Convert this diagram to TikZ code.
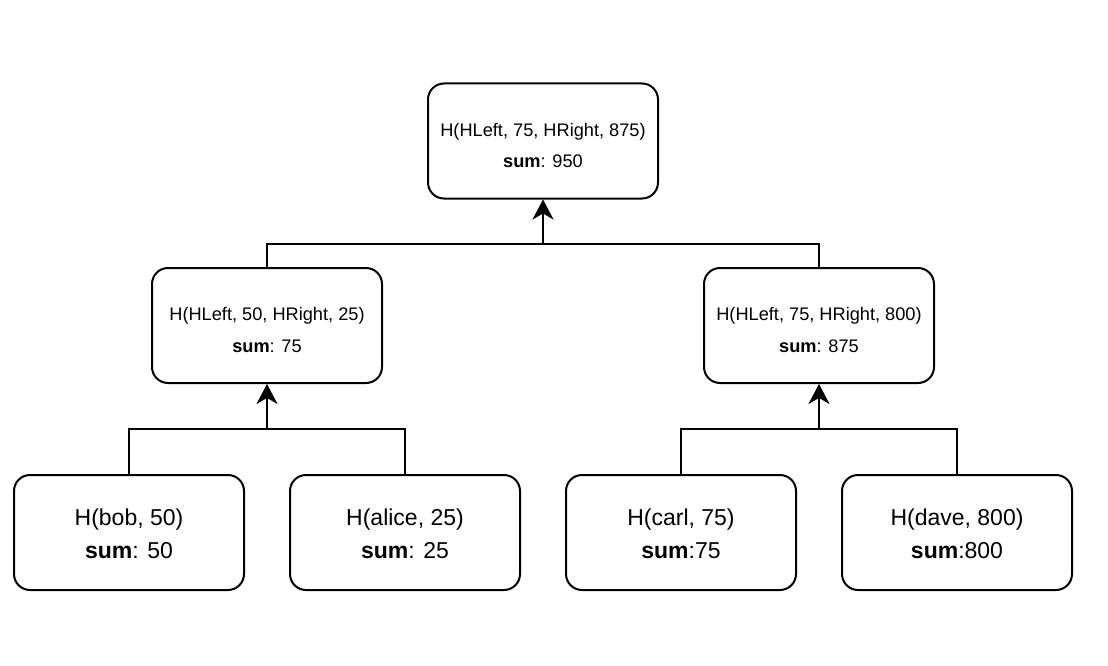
\documentclass[tikz,border=0pt]{standalone}
\usepackage{fontspec}
\setmainfont{Liberation Sans}
\usetikzlibrary{arrows.meta}
\tikzset{
  hbox/.style={draw=black, line width=2pt, rounded corners=16pt, fill=white,
    minimum width=230pt, minimum height=115pt, inner sep=0pt},
  smalltext/.style={align=center, inner sep=0pt, font=\fontsize{18.2}{31.5}\selectfont},
  bigtext/.style={align=center, inner sep=0pt, font=\fontsize{23}{33}\selectfont},
  link/.style={draw=black, line width=2pt},
  uparrow/.style={link, -{Stealth[length=20pt, width=21pt, inset=6pt]}},
}
\begin{document}
\begin{tikzpicture}[x=1pt, y=-1pt]
\useasboundingbox[fill=white] (0,0) rectangle (1108,666);
\node[hbox] (top) at (543,141) {};
\node[hbox] (ml) at (267,325.5) {};
\node[hbox] (mr) at (819,325.5) {};
\node[hbox] (bob) at (129,532.5) {};
\node[hbox] (alice) at (405,532.5) {};
\node[hbox] (carl) at (681,532.5) {};
\node[hbox] (dave) at (957,532.5) {};
\node[smalltext] (topt) at ([yshift=-4.5pt]top.center) {H(HLeft, 75, HRight, 875)\\\textbf{sum}: 950};
\node[smalltext] (mlt) at ([yshift=-4.5pt]ml.center) {H(HLeft, 50, HRight, 25)\\\textbf{sum}: 75};
\node[smalltext] (mrt) at ([yshift=-4.5pt]mr.center) {H(HLeft, 75, HRight, 800)\\\textbf{sum}: 875};
\node[bigtext] (bobt) at ([yshift=-1pt]bob.center) {H(bob, 50)\\\textbf{sum}: 50};
\node[bigtext] (alicet) at ([yshift=-1pt]alice.center) {H(alice, 25)\\\textbf{sum}: 25};
\node[bigtext] (carlt) at ([yshift=-1pt]carl.center) {H(carl, 75)\\\textbf{sum}:75};
\node[bigtext] (davet) at ([yshift=-1pt]dave.center) {H(dave, 800)\\\textbf{sum}:800};
\coordinate (j0) at (543,244);
\coordinate (j1) at (267,429);
\coordinate (j2) at (819,429);
\draw[link] (ml.north) |- (j0) -| (mr.north);
\draw[uparrow] (j0) -- (top.south);
\draw[link] (bob.north) |- (j1) -| (alice.north);
\draw[uparrow] (j1) -- (ml.south);
\draw[link] (carl.north) |- (j2) -| (dave.north);
\draw[uparrow] (j2) -- (mr.south);
\end{tikzpicture}
\end{document}
